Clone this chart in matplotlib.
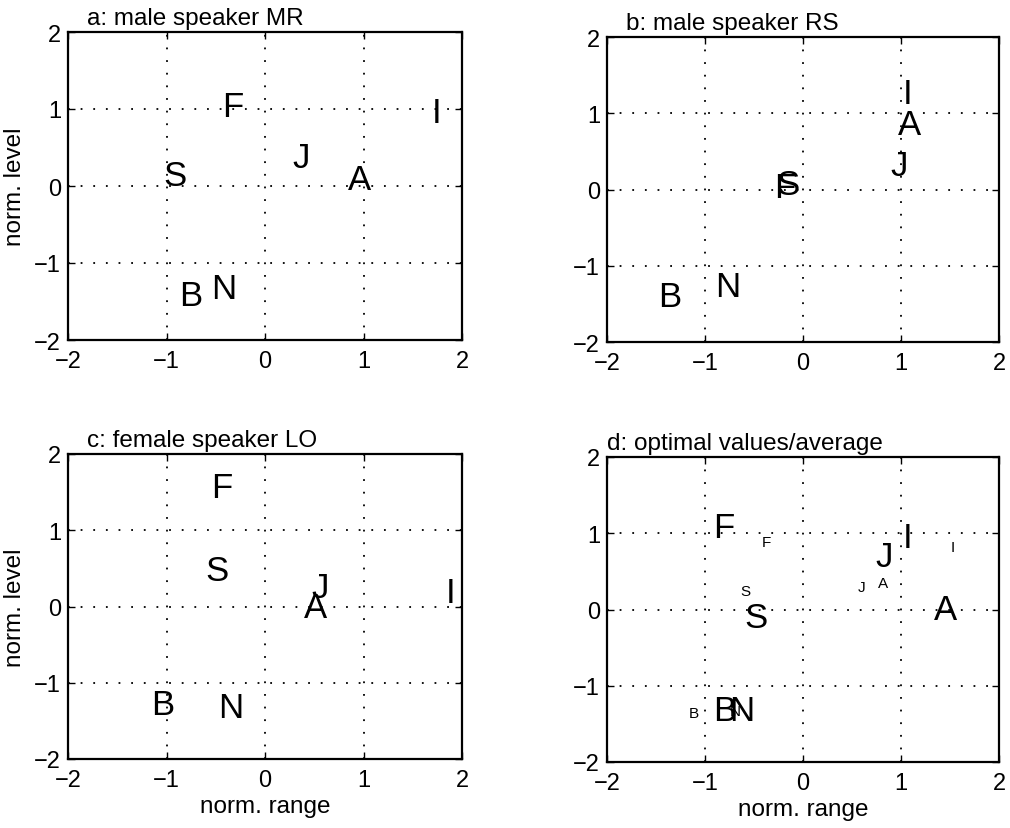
import numpy as np
import matplotlib
matplotlib.use("Agg")
from matplotlib import pyplot as plt

plt.rcParams['font.family'] = ['Liberation Sans', 'DejaVu Sans']

letters = ['A', 'B', 'F', 'I', 'J', 'N', 'S']

# a: male speaker MR
mr_x = [0.84, -0.87, -0.44, 1.69, 0.28, -0.55, -1.03]
mr_y = [0.09, -1.42, 1.03, 0.96, 0.37, -1.33, 0.13]
# b: male speaker RS
rs_x = [0.97, -1.48, -0.29, 1.02, 0.89, -0.90, -0.27]
rs_y = [0.85, -1.40, 0.02, 1.26, 0.31, -1.27, 0.07]
# c: female speaker LO
lo_x = [0.40, -1.16, -0.55, 1.83, 0.47, -0.48, -0.61]
lo_y = [-0.01, -1.29, 1.56, 0.19, 0.25, -1.33, 0.47]
# d: optimal values (large) and average (small)
opt_x = [1.34, -0.92, -0.92, 1.02, 0.74, -0.75, -0.60]
opt_y = [0.00, -1.33, 1.07, 0.94, 0.69, -1.33, -0.11]
avg_x = [0.76, -1.17, -0.42, 1.51, 0.56, -0.75, -0.64]
avg_y = [0.35, -1.36, 0.88, 0.82, 0.29, -1.33, 0.24]

titles = ['a: male speaker MR', 'b: male speaker RS',
          'c: female speaker LO', 'd: optimal values/average']
ticks = [-2, -1, 0, 1, 2]

fig = plt.figure(figsize=(10.1, 8.29), dpi=100)
W, H = 1010.0, 829.0
boxes = [(68, 33, 462, 341), (607, 38, 999, 343),
         (68, 455, 462, 760), (607, 458, 999, 763)]
axes = []
for (l, t, r, b) in boxes:
    axes.append(fig.add_axes([l / W, 1 - b / H, (r - l) / W, (b - t) / H]))

def setup(ax, title, title_x):
    ax.set_xlim(-2, 2)
    ax.set_ylim(-2, 2)
    ax.set_xticks(ticks)
    ax.set_yticks(ticks)
    ax.grid(True, color='black', linestyle=(0, (1, 6)), linewidth=1.3)
    ax.tick_params(direction='in', top=True, right=True, labelsize=17,
                   length=5, width=1)
    ax.tick_params(axis='x', pad=7)
    ax.tick_params(axis='y', pad=5)
    for s in ax.spines.values():
        s.set_linewidth(1.6)
    ax.text(title_x, 1.026, title, transform=ax.transAxes, fontsize=17.5,
            ha='left', va='baseline')

def put(ax, xs, ys, size):
    for ch, x, y in zip(letters, xs, ys):
        ax.text(x, y, ch, fontsize=size, ha='left', va='center')

setup(axes[0], titles[0], 0.048)
put(axes[0], mr_x, mr_y, 25)
setup(axes[1], titles[1], 0.048)
put(axes[1], rs_x, rs_y, 25)
setup(axes[2], titles[2], 0.048)
put(axes[2], lo_x, lo_y, 25)
setup(axes[3], titles[3], 0.0)
put(axes[3], opt_x, opt_y, 25)
put(axes[3], avg_x, avg_y, 11)

axes[0].set_ylabel('norm. level', fontsize=17.5, labelpad=6)
axes[2].set_ylabel('norm. level', fontsize=17.5, labelpad=6)
axes[2].set_xlabel('norm. range', fontsize=17.5, labelpad=3)
axes[3].set_xlabel('norm. range', fontsize=17.5, labelpad=3)

plt.savefig('out.png', dpi=100)
